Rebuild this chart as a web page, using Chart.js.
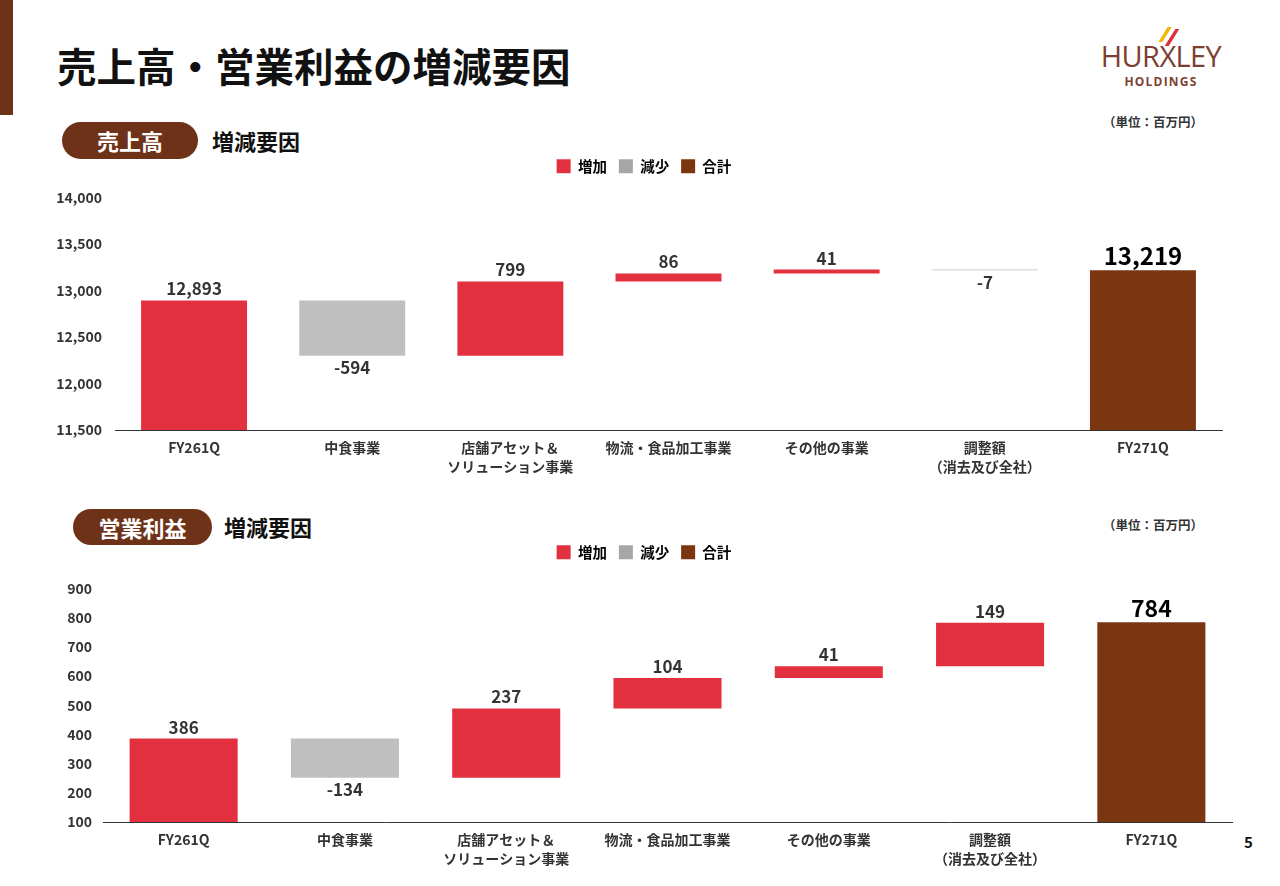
<!DOCTYPE html>
<html><head><meta charset="utf-8">
<script src="https://cdn.jsdelivr.net/npm/chart.js@4.4.1/dist/chart.umd.min.js"></script>
<style>
body{margin:0;width:1280px;height:886px;position:relative;background:#fff;font-family:"Noto Sans CJK JP","Noto Sans",sans-serif;overflow:hidden}
.abs{position:absolute;white-space:nowrap}
.badge{background:#6E3218;color:#fff;font-weight:700;font-size:22px;text-align:center;border-radius:20px}
.sub{font-weight:700;font-size:22px;color:#111;line-height:1}
.unit{font-weight:700;font-size:12.5px;color:#333;line-height:1}
</style></head><body>
<div class="abs" style="left:0;top:0;width:13px;height:115px;background:#6E3218"></div>
<div class="abs" style="left:57px;top:45px;font-size:39.5px;font-weight:700;color:#111;line-height:1">売上高・営業利益の増減要因</div>

<!-- logo -->
<div class="abs" style="left:1163px;top:27px;width:4px;height:15px;background:#F2B705;transform:skewX(-32deg)"></div>
<div class="abs" style="left:1170px;top:29px;width:4px;height:17px;background:#D9303E;transform:skewX(-32deg)"></div>
<div class="abs" style="left:1100px;top:41px;width:122px;text-align:center;font-family:'Open Sans',sans-serif;font-size:29px;font-weight:500;color:#7E3F33;line-height:1;letter-spacing:-0.6px">HURXLEY</div>
<div class="abs" style="left:1101px;top:76px;width:120px;text-align:center;font-family:'Open Sans',sans-serif;font-size:12px;font-weight:700;color:#7E3F33;line-height:1;letter-spacing:1.2px">HOLDINGS</div>

<div class="abs unit" style="right:77px;top:116px">（単位：百万円）</div>
<div class="abs badge" style="left:62px;top:122px;width:136px;height:37px;line-height:37px">売上高</div>
<div class="abs sub" style="left:212px;top:129px">増減要因</div>

<div class="abs unit" style="right:77px;top:519px">（単位：百万円）</div>
<div class="abs badge" style="left:73px;top:509px;width:139px;height:36px;line-height:36px">営業利益</div>
<div class="abs sub" style="left:224px;top:515px">増減要因</div>

<div class="abs" style="left:1244px;top:834px;font-size:15px;font-weight:700;color:#111;line-height:1">5</div>

<div class="abs" style="left:0;top:150px;width:1280px;height:330px"><canvas id="c1" width="1280" height="330"></canvas></div>
<div class="abs" style="left:0;top:533px;width:1280px;height:339px"><canvas id="c2" width="1280" height="339"></canvas></div>

<script>
const categories = ['FY261Q', '中食事業', ['店舗アセット＆', 'ソリューション事業'], '物流・食品加工事業', 'その他の事業', ['調整額', '（消去及び全社）'], 'FY271Q'];
const legendNames = ['増加', '減少', '合計'];

const salesStart = 12893;
const salesChanges = [-594, 799, 86, 41, -7];
const salesTotal = 13219;
const salesTicks = [11500, 12000, 12500, 13000, 13500, 14000];

const profitStart = 386;
const profitChanges = [-134, 237, 104, 41, 149];
const profitTotal = 784;
const profitTicks = [100, 200, 300, 400, 500, 600, 700, 800, 900];

const RED = '#E2303F', GRAY = '#BFBFBF', BROWN = '#7B3511', LEGEND_GRAY = '#A6A6A6';
const FAMILY = "'Noto Sans CJK JP','Noto Sans',sans-serif";

function buildWaterfall(start, changes, total, base) {
  const up = [], down = [], tot = [], labels = [];
  up.push([base, start]); down.push(null); tot.push(null); labels.push(start);
  let run = start;
  changes.forEach(c => {
    const next = run + c;
    if (c >= 0) { up.push([run, next]); down.push(null); }
    else { up.push(null); down.push([run, next]); }
    tot.push(null); labels.push(c);
    run = next;
  });
  up.push(null); down.push(null); tot.push([base, total]); labels.push(total);
  return { up, down, tot, labels };
}

const fmt = v => v.toLocaleString('en-US');

const valueLabels = {
  id: 'valueLabels',
  afterDatasetsDraw(chart, args, opts) {
    const ctx = chart.ctx;
    const labels = opts.labels;
    chart.data.datasets.forEach((ds, di) => {
      const meta = chart.getDatasetMeta(di);
      meta.data.forEach((el, i) => {
        if (!ds.data[i]) return;
        const isTotal = i === labels.length - 1;
        const val = labels[i];
        const size = isTotal ? opts.totalSize : opts.size;
        ctx.save();
        ctx.font = `700 ${size}px ${FAMILY}`;
        ctx.fillStyle = isTotal ? '#000' : '#333';
        ctx.textAlign = 'center';
        ctx.textBaseline = 'alphabetic';
        const top = Math.min(el.y, el.base), bottom = Math.max(el.y, el.base);
        if (val >= 0) ctx.fillText(fmt(val), el.x, top - opts.gap);
        else ctx.fillText(fmt(val), el.x, bottom + opts.gap + 1 + size * 0.73);
        ctx.restore();
      });
    });
  }
};

// move the legend box after layout (keeps the plot area where it is)
const legendShift = {
  id: 'legendShift',
  afterLayout(chart, args, opts) {
    const l = chart.legend;
    if (!l) return;
    l.left += opts.dx; l.right += opts.dx;
    l.top += opts.dy; l.bottom += opts.dy;
  }
};

function makeChart(id, wf, cfg) {
  new Chart(document.getElementById(id), {
    type: 'bar',
    data: {
      labels: categories,
      datasets: [
        { label: legendNames[0], data: wf.up, backgroundColor: RED },
        { label: legendNames[1], data: wf.down, backgroundColor: GRAY },
        { label: legendNames[2], data: wf.tot, backgroundColor: BROWN }
      ]
    },
    options: {
      responsive: false,
      animation: false,
      devicePixelRatio: 1,
      layout: { padding: { left: 0, right: cfg.padRight, top: cfg.padTop, bottom: 0 } },
      datasets: { bar: { grouped: false, categoryPercentage: 0.67, barPercentage: 1, borderWidth: 0 } },
      plugins: {
        tooltip: { enabled: false },
        legend: {
          display: true, position: 'top', align: 'center',
          labels: {
            boxWidth: 14, boxHeight: 14, padding: 12, color: '#222',
            font: { family: FAMILY, size: 14.5, weight: 'bold' },
            generateLabels: chart => chart.data.datasets.map((ds, i) => ({
              text: ds.label, fillStyle: i === 1 ? LEGEND_GRAY : ds.backgroundColor,
              strokeStyle: 'transparent', lineWidth: 0, datasetIndex: i, hidden: false
            }))
          }
        },
        legendShift: { dx: cfg.legendDx, dy: cfg.legendDy },
        valueLabels: { labels: wf.labels, size: 17, totalSize: cfg.totalSize, gap: 5 }
      },
      scales: {
        x: {
          grid: { display: false, drawTicks: false },
          border: { display: true, color: '#333', width: 1 },
          ticks: { color: '#333', font: { family: FAMILY, size: 14, weight: 'bold', lineHeight: 1.3 }, padding: 9, maxRotation: 0, autoSkip: false },
          afterFit(s) { s.height = 50; }
        },
        y: {
          min: cfg.ticks[0], max: cfg.ticks[cfg.ticks.length - 1],
          afterBuildTicks(s) { s.ticks = cfg.ticks.map(v => ({ value: v })); },
          grid: { display: false, drawTicks: false },
          border: { display: false },
          ticks: { color: '#333', padding: cfg.tickPad, font: { family: FAMILY, size: 14, weight: 'bold' }, callback: v => fmt(v) },
          afterFit(s) { s.width = cfg.yWidth; }
        }
      }
    },
    plugins: [valueLabels, legendShift]
  });
}

makeChart('c1', buildWaterfall(salesStart, salesChanges, salesTotal, salesTicks[0]),
  { ticks: salesTicks, padRight: 58, padTop: 11, yWidth: 115, tickPad: 13, totalSize: 24, legendDx: 33, legendDy: -14 });
makeChart('c2', buildWaterfall(profitStart, profitChanges, profitTotal, profitTicks[0]),
  { ticks: profitTicks, padRight: 48, padTop: 19, yWidth: 103, tickPad: 11, totalSize: 23, legendDx: 28, legendDy: -19 });
</script>
</body></html>
